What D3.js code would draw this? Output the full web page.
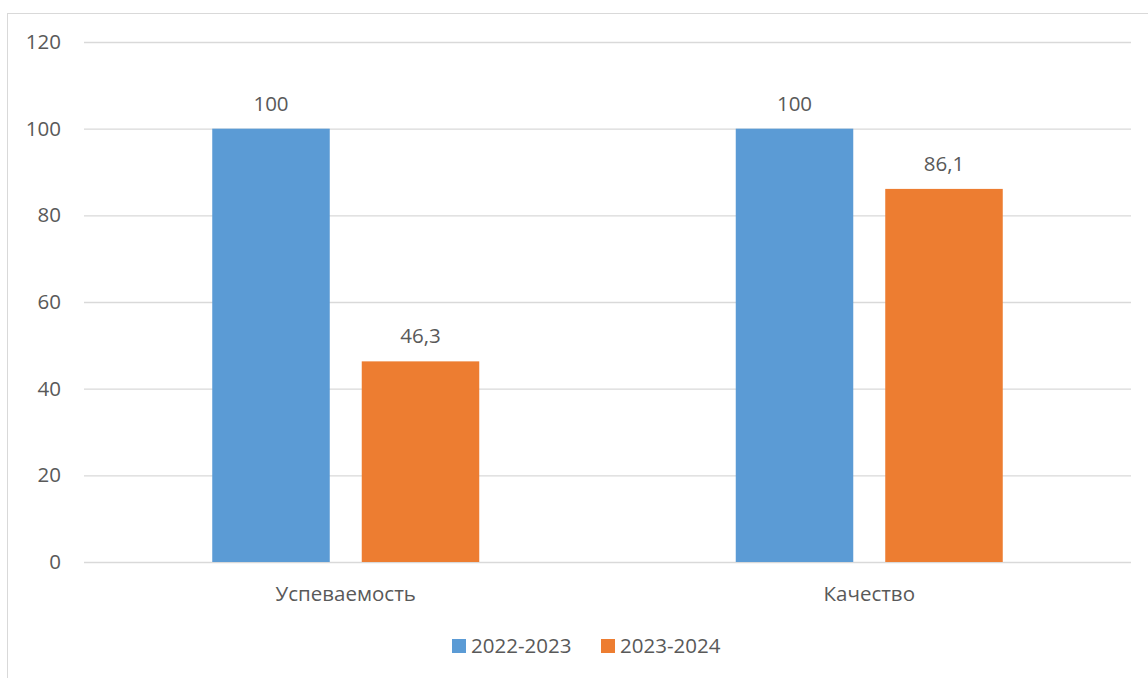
<!DOCTYPE html>
<html>
<head>
<meta charset="utf-8">
<script src="https://cdn.jsdelivr.net/npm/d3@7"></script>
<style>
  body { margin: 0; background: #fff; }
  text { font-family: "Open Sans", sans-serif; fill: #595959; }
</style>
</head>
<body>
<div id="chart"></div>
<script>
var categories = ["Успеваемость", "Качество"];
var seriesNames = ["2022-2023", "2023-2024"];
var values2022 = [100, 100];
var values2023 = [46.3, 86.1];
var yTicks = [0, 20, 40, 60, 80, 100, 120];
var colors = ["#5b9bd5", "#ed7d31"];

var width = 1148;
var height = 678;
var fontSize = "20.5px";

var plot = { left: 84, right: 1131, top: 42, bottom: 562 };

var svg = d3.select("#chart")
  .append("svg")
  .attr("width", width)
  .attr("height", height);

// outer chart border (right and bottom edges fall off-screen)
svg.append("rect")
  .attr("x", 7.5)
  .attr("y", 13.5)
  .attr("width", 1200)
  .attr("height", 700)
  .attr("fill", "none")
  .attr("stroke", "#d9d9d9");

var yScale = d3.scaleLinear()
  .domain([0, 120])
  .range([plot.bottom, plot.top]);

var x0 = d3.scaleBand()
  .domain(categories)
  .range([plot.left, plot.right]);

var groupWidth = 267;
var x1 = d3.scaleBand()
  .domain(seriesNames)
  .range([0, groupWidth])
  .paddingInner(0.214);

// gridlines
svg.append("g")
  .selectAll("line")
  .data(yTicks)
  .enter().append("line")
  .attr("x1", plot.left)
  .attr("x2", plot.right)
  .attr("y1", d => yScale(d) + 0.5)
  .attr("y2", d => yScale(d) + 0.5)
  .attr("stroke", "#d9d9d9")
  .attr("stroke-width", 1.3);

// y axis labels
var yAxis = d3.axisLeft(yScale).tickValues(yTicks).tickSize(0).tickPadding(0);
var yG = svg.append("g")
  .attr("transform", "translate(61,0)")
  .call(yAxis);
yG.select(".domain").remove();
yG.selectAll("text")
  .style("font-size", fontSize)
  .attr("fill", "#595959")
  .attr("font-family", "Open Sans, sans-serif");

var rows = categories.map(function(c, i) {
  return { cat: c, vals: [values2022[i], values2023[i]] };
});

var groups = svg.selectAll(".grp")
  .data(rows)
  .enter().append("g")
  .attr("transform", d => `translate(${x0(d.cat) + (x0.bandwidth() - groupWidth) / 2},0)`);

groups.selectAll("rect")
  .data(d => d.vals.map((v, j) => ({ s: seriesNames[j], v: v, j: j })))
  .enter().append("rect")
  .attr("x", d => x1(d.s))
  .attr("y", d => yScale(d.v))
  .attr("width", x1.bandwidth())
  .attr("height", d => yScale(0) - yScale(d.v))
  .attr("fill", d => colors[d.j]);

// data labels, comma as decimal separator
groups.selectAll(".lbl")
  .data(d => d.vals.map((v, j) => ({ s: seriesNames[j], v: v })))
  .enter().append("text")
  .attr("x", d => x1(d.s) + x1.bandwidth() / 2)
  .attr("y", d => yScale(d.v) - 18)
  .attr("text-anchor", "middle")
  .style("font-size", fontSize)
  .text(d => String(d.v).replace(".", ","));

// category labels
var xAxis = d3.axisBottom(x0).tickSize(0).tickPadding(0);
var xG = svg.append("g")
  .attr("transform", `translate(0,${plot.bottom + 24})`)
  .call(xAxis);
xG.select(".domain").remove();
xG.selectAll("text")
  .style("font-size", fontSize)
  .attr("fill", "#595959")
  .attr("font-family", "Open Sans, sans-serif");

// legend
var legendX = [452, 601];
var legend = svg.append("g");
seriesNames.forEach(function(name, i) {
  legend.append("rect")
    .attr("x", legendX[i])
    .attr("y", 639)
    .attr("width", 14)
    .attr("height", 14)
    .attr("fill", colors[i]);
  legend.append("text")
    .attr("x", legendX[i] + 19)
    .attr("y", 646)
    .attr("dy", "0.35em")
    .style("font-size", fontSize)
    .text(name);
});
</script>
</body>
</html>
